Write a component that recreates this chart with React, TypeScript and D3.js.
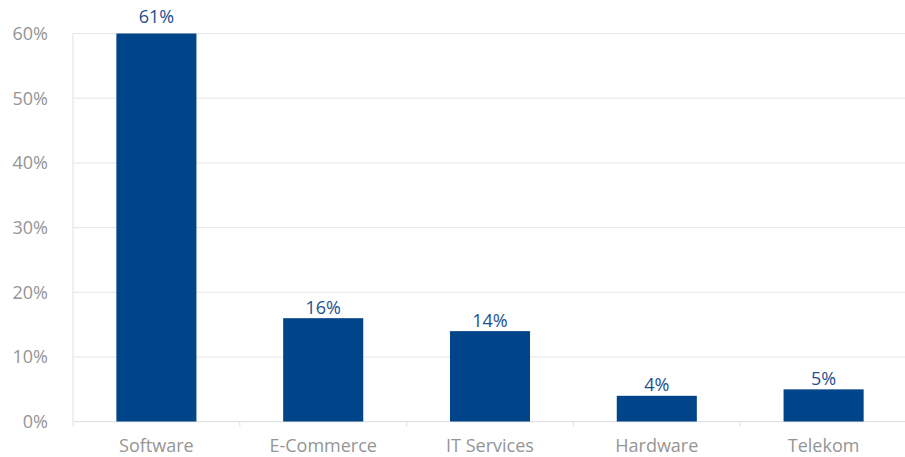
import React from "react";
import * as d3 from "d3";

const categories = ["Software", "E-Commerce", "IT Services", "Hardware", "Telekom"];
const values = [61, 16, 14, 4, 5];
const yTicks = [0, 10, 20, 30, 40, 50, 60];

const W = 905;
const H = 457;
const left = 73;
const right = 907;
const top = 33.5;
const bottom = 421.7;

export default function App() {
  const x = d3.scaleBand<string>().domain(categories).range([left, right]).paddingInner(0.52).paddingOuter(0.26);
  const xb = d3.scaleBand<string>().domain(categories).range([left, right]);
  const y = d3.scaleLinear().domain([0, 60]).range([bottom, top]);
  const font = "'Open Sans', Lato, sans-serif";

  return (
    <svg width={W} height={H} style={{ position: "absolute", left: 0, top: 0 }}>
      <defs>
        <clipPath id="plot">
          <rect x={left} y={top} width={right - left} height={bottom - top} />
        </clipPath>
      </defs>
      <rect width={W} height={H} fill="#fff" />
      {yTicks.map((t) => (
        <g key={t}>
          <line x1={left} x2={right} y1={y(t)} y2={y(t)} stroke={t === 0 ? "#dcdcdc" : "#e6e6e6"} strokeWidth={1} />
          <text x={48} y={y(t)} dy="0.35em" textAnchor="end" fill="#959595" fontSize={18} fontFamily={font}>
            {t}%
          </text>
        </g>
      ))}
      <line x1={left} x2={left} y1={top} y2={bottom + 5} stroke="#e0e0e0" />
      {categories.map((c, i) =>
        i > 0 ? (
          <line key={c} x1={xb(c)!} x2={xb(c)!} y1={bottom} y2={bottom + 5} stroke="#e0e0e0" />
        ) : null
      )}
      <g clipPath="url(#plot)">
        {categories.map((c, i) => (
          <rect key={c} x={x(c)!} y={y(values[i])} width={x.bandwidth()} height={bottom - y(values[i])} fill="#004489" />
        ))}
      </g>
      {categories.map((c, i) => (
        <text
          key={c}
          x={x(c)! + x.bandwidth() / 2}
          y={y(values[i]) - 4.5}
          textAnchor="middle"
          fill="#1d4f8f"
          fontSize={18}
          fontFamily={font}
        >
          {values[i]}%
        </text>
      ))}
      {categories.map((c) => (
        <text
          key={c}
          x={xb(c)! + xb.bandwidth() / 2}
          y={452}
          textAnchor="middle"
          fill="#959595"
          fontSize={18}
          fontFamily={font}
        >
          {c}
        </text>
      ))}
    </svg>
  );
}
